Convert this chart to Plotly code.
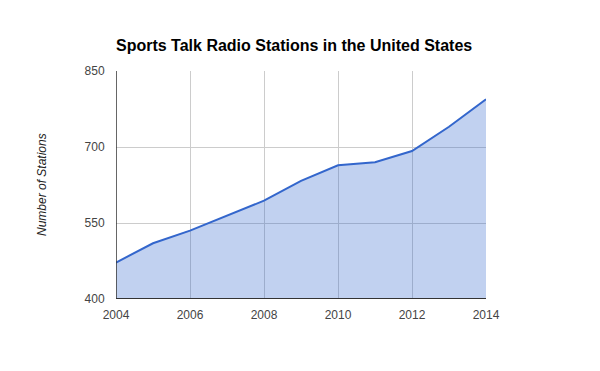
import plotly.graph_objects as go

years = [2004, 2005, 2006, 2007, 2008, 2009, 2010, 2011, 2012, 2013, 2014]
stations = [472, 510, 535, 565, 594, 633, 664, 670, 692, 740, 794]
y_ticks = [400, 550, 700, 850]
x_ticks = [2004, 2006, 2008, 2010, 2012, 2014]

# page body has an 8px default margin; compensate in figure margins
fig = go.Figure()
fig.add_trace(go.Scatter(
    x=years, y=stations, mode="lines",
    line=dict(color="#3366cc", width=2),
    fill="tozeroy", fillcolor="rgba(51,102,204,0.3)",
    hoverinfo="x+y",
))

fig.update_layout(
    width=600, height=371,
    margin=dict(l=108, r=122, t=63, b=80),
    paper_bgcolor="white", plot_bgcolor="white",
    font=dict(family="Liberation Sans, Arial, sans-serif", size=12, color="#444444"),
    title=dict(
        text="<b>Sports Talk Radio Stations in the United States</b>",
        x=0, xanchor="left", xref="paper", y=1-37/371, yanchor="middle", yref="container",
        font=dict(size=16, color="#000000", family="Liberation Sans, Arial, sans-serif"),
    ),
    showlegend=False,
    xaxis=dict(
        range=[2004, 2014], tickvals=x_ticks, ticktext=[str(v) for v in x_ticks],
        showgrid=True, gridcolor="#cccccc", gridwidth=1,
        zeroline=False, showline=False,
        ticks="outside", ticklen=5, tickcolor="rgba(0,0,0,0)",
        tickfont=dict(size=12, color="#444444"), automargin=False,
    ),
    yaxis=dict(
        range=[400, 850], tickvals=y_ticks, ticktext=[str(v) for v in y_ticks],
        showgrid=True, gridcolor="#cccccc", gridwidth=1,
        zeroline=False, showline=False,
        ticks="outside", ticklen=8, tickcolor="rgba(0,0,0,0)",
        tickfont=dict(size=12, color="#444444"), automargin=False,
    ),
    annotations=[dict(
        text="<i>Number of Stations</i>", xref="paper", yref="paper",
        x=-74/370, y=0.5, xanchor="center", yanchor="middle", textangle=-90,
        showarrow=False, font=dict(size=12, color="#222222"),
    )],
)

# dark baseline and left axis
fig.add_shape(type="line", xref="x", yref="y", x0=2004, x1=2014, y0=400, y1=400,
              line=dict(color="#333333", width=2), layer="above")
fig.add_shape(type="line", xref="x", yref="y", x0=2004, x1=2004, y0=400, y1=850,
              line=dict(color="#333333", width=1.5), layer="above")

fig.write_html("out.html")
